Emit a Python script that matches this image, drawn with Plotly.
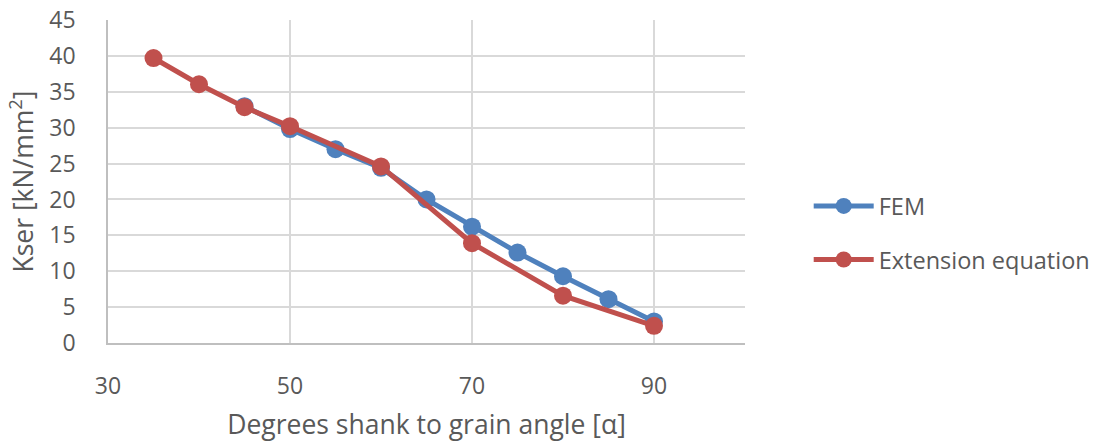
import plotly.graph_objects as go

# Shank-to-grain angle (degrees) and slip modulus Kser (kN/mm²)
fem_angle = [45, 50, 55, 60, 65, 70, 75, 80, 85, 90]
fem_kser = [33.0, 29.8, 27.0, 24.4, 20.0, 16.2, 12.6, 9.3, 6.1, 3.0]

ext_angle = [35, 40, 45, 50, 60, 70, 80, 90]
ext_kser = [39.7, 36.05, 32.85, 30.2, 24.6, 13.9, 6.6, 2.4]

x_ticks = [30, 50, 70, 90]
y_ticks = [0, 5, 10, 15, 20, 25, 30, 35, 40, 45]

BLUE = "#4F81BD"
RED = "#C0504D"
TEXT = "#595959"
FONT = "Open Sans"

fig = go.Figure()
fig.add_trace(go.Scatter(
    x=fem_angle, y=fem_kser, name="FEM", mode="lines+markers",
    line=dict(color=BLUE, width=5), marker=dict(color=BLUE, size=18),
    legendgroup="a",
))
fig.add_trace(go.Scatter(
    x=ext_angle, y=ext_kser, name="Extension equation", mode="lines+markers",
    line=dict(color=RED, width=5), marker=dict(color=RED, size=18),
    legendgroup="b",
))

fig.update_layout(
    width=1107, height=442,
    margin=dict(l=108, r=362, t=20, b=99, autoexpand=False),
    paper_bgcolor="white", plot_bgcolor="white",
    font=dict(family=FONT, color=TEXT, size=23),
    legend=dict(
        x=1.1, y=0.34, xanchor="left", yanchor="middle",
        font=dict(family=FONT, size=23.5, color=TEXT),
        tracegroupgap=20, itemwidth=60,
        bgcolor="rgba(0,0,0,0)",
    ),
    xaxis=dict(
        range=[30, 100], tickvals=x_ticks, ticktext=[str(v) for v in x_ticks],
        showgrid=True, gridcolor="#D9D9D9", gridwidth=1.5,
        showline=True, linecolor="#BFBFBF", linewidth=1.5,
        zeroline=False, ticks="", ticklabelstandoff=22, automargin=False,
        tickfont=dict(size=23, color=TEXT),
        title=dict(text="Degrees shank to grain angle [α]",
                   font=dict(size=26.5, color=TEXT), standoff=16),
    ),
    yaxis=dict(
        range=[0, 45], tickvals=y_ticks,
        showgrid=True, gridcolor="#D9D9D9", gridwidth=1.5,
        showline=True, linecolor="#BFBFBF", linewidth=1.5,
        zeroline=False, ticks="", ticklabelstandoff=26, automargin=False,
        tickfont=dict(size=23, color=TEXT),
        title=dict(text="Kser [kN/mm<sup>2</sup>]",
                   font=dict(size=26.5, color=TEXT), standoff=8),
    ),
)

fig.write_html("out.html")
